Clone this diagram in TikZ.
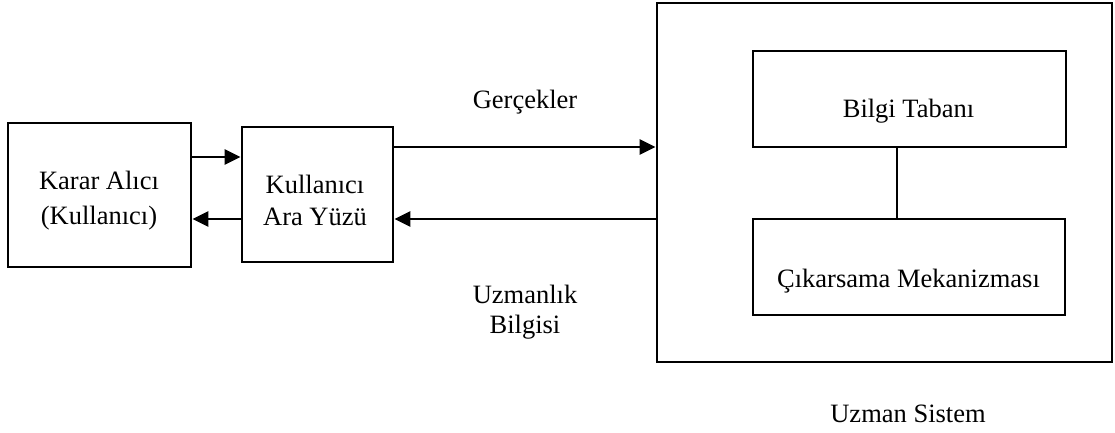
\documentclass[tikz,border=0pt]{standalone}
\usepackage{fontspec}
\setmainfont{Liberation Serif}
\usetikzlibrary{arrows.meta}
\begin{document}
\begin{tikzpicture}[x=1pt,y=-1pt,
  box/.style={draw, line width=2.8pt, inner sep=0pt},
  label/.style={font=\fontsize{26.5}{33}\selectfont, inner sep=0pt},
  arr/.style={line width=2.6pt, -{Triangle[length=16pt,width=15pt]}},
  link/.style={line width=2.8pt}]
\useasboundingbox (0,0) rectangle (1115,432);

% outer system frame and its two components
\node[box, minimum width=455pt, minimum height=359pt] (uzman) at (884.5,182.5) {};
\node[box, minimum width=313pt, minimum height=96pt] (bilgi) at (909.5,99) {};
\node[box, minimum width=312pt, minimum height=96pt] (cikar) at (909,267) {};

% user side
\node[box, minimum width=183pt, minimum height=144pt] (karar) at (99.5,195) {};
\node[box, minimum width=151pt, minimum height=135pt] (arayuz) at (317.5,194.5) {};

% texts
\node[label, anchor=base] (tbilgi) at (908.5,117) {Bilgi Tabanı};
\node[label, anchor=base] (tcikar) at (908.5,287) {Çıkarsama Mekanizması};
\node[label, anchor=base] (tuzman) at (908,422) {Uzman Sistem};
\node[label, align=center, font=\fontsize{26.5}{35}\selectfont] (tkarar) at (99,201) {Karar Alıcı\\(Kullanıcı)};
\node[label, align=center, font=\fontsize{26.5}{32}\selectfont] (tarayuz) at (315,200) {Kullanıcı\\Ara Yüzü};
\node[label, anchor=base] (tgercek) at (525,108) {Gerçekler};
\node[label, align=center, font=\fontsize{26.5}{30}\selectfont] (tuzmanlik) at (525,312) {Uzmanlık\\Bilgisi};

% heights of the connectors
\coordinate (y1) at (0,157);
\coordinate (y2) at (0,219);
\coordinate (y3) at (0,147);
\coordinate (y4) at (0,219);
\coordinate (xl) at (897,0);

% connectors
\draw[arr] (karar.east |- y1) -- (arayuz.west |- y1);
\draw[arr] (arayuz.west |- y2) -- (karar.east |- y2);
\draw[arr] (arayuz.east |- y3) -- (uzman.west |- y3);
\draw[arr] (uzman.west |- y4) -- (arayuz.east |- y4);
\draw[link] (xl |- bilgi.south) -- (xl |- cikar.north);
\end{tikzpicture}
\end{document}
